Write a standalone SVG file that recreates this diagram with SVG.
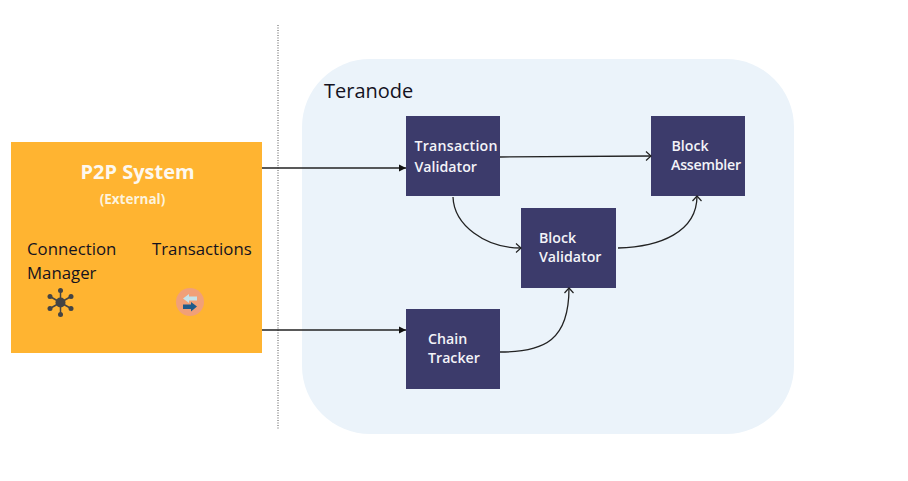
<svg xmlns="http://www.w3.org/2000/svg" width="908" height="481" viewBox="0 0 908 481">
<defs>
<marker id="a" markerWidth="12" markerHeight="12" refX="8" refY="5" orient="auto" markerUnits="userSpaceOnUse"><path d="M3 0.5L8 5L3 9.5" fill="none" stroke="#222" stroke-width="1.2"/></marker>
<marker id="f" markerWidth="12" markerHeight="12" refX="8" refY="4" orient="auto" markerUnits="userSpaceOnUse"><path d="M1 0.5L8 4L1 7.5Z" fill="#111"/></marker>
</defs>
<style>
text{font-family:"Open Sans","Noto Sans",sans-serif}
.box{fill:#3c3b6b}
.w{fill:#f3f3f8;font-size:14.2px;font-weight:600}
.d{fill:#14121f;font-size:16.8px}
.c{fill:none;stroke:#222;stroke-width:1.3}
.hub{stroke:#444;stroke-width:1.5;fill:none}
</style>
<rect width="908" height="481" fill="#fff"/>
<g id="teranode"><rect x="302" y="59" width="492" height="375" rx="68" fill="#ebf3fa"/><text x="324" y="98" font-size="20" fill="#14121f">Teranode</text></g>
<line x1="278" y1="25" x2="278" y2="429" stroke="#555" stroke-width="1" stroke-dasharray="1 1.5"/>
<g id="p2p">
<rect x="11" y="142" width="251" height="211" fill="#ffb431"/>
<text x="137.500" y="179" font-size="20" font-weight="700" fill="#fdf8ef" text-anchor="middle">P2P System</text>
<text x="132.500" y="204" font-size="13.500" font-weight="700" fill="#fdf3dd" text-anchor="middle">(External)</text>
<text class="d" x="27" y="255">Connection</text>
<text class="d" x="27" y="279">Manager</text>
<text class="d" x="152" y="255">Transactions</text>
<g id="hub-icon" class="hub"><path d="M60.500 302.500V291M60.500 302.500V314M60.500 302.500L50 296.500M60.500 302.500L71 296.500M60.500 302.500L50 308.500M60.500 302.500L71 308.500"/><g fill="#444" stroke="none"><circle cx="60.500" cy="302.500" r="5"/><circle cx="60.500" cy="290.500" r="2.500"/><circle cx="60.500" cy="314.500" r="2.500"/><circle cx="50" cy="296.500" r="2.500"/><circle cx="71" cy="296.500" r="2.500"/><circle cx="50" cy="308.500" r="2.500"/><circle cx="71" cy="308.500" r="2.500"/></g></g>
<g id="tx-icon"><circle cx="190" cy="302" r="14" fill="#f1a078"/><path d="M183 298.500L189 294V296.500H197V300.500H189V303Z" fill="#c5e3ea"/><path d="M197 306.500L191 311.500V309H183V304.500H191V302Z" fill="#1f5b8a"/></g>
</g>
<g id="tv"><rect class="box" x="406" y="116" width="94" height="80"/><text class="w" x="414.500" y="151" textLength="83" lengthAdjust="spacing">Transaction</text><text class="w" x="414.500" y="171.500">Validator</text></g>
<g id="ba"><rect class="box" x="651" y="116" width="94" height="80"/><text class="w" x="671.500" y="151">Block</text><text class="w" x="671" y="170" textLength="70" lengthAdjust="spacing">Assembler</text></g>
<g id="bv"><rect class="box" x="521" y="208" width="95" height="80"/><text class="w" x="539" y="243">Block</text><text class="w" x="539" y="262">Validator</text></g>
<g id="ct"><rect class="box" x="406" y="309" width="94" height="80"/><text class="w" x="428" y="344">Chain</text><text class="w" x="428" y="363">Tracker</text></g>
<g id="connectors">
<path class="c" d="M262 168H406" marker-end="url(#f)"/>
<path class="c" d="M262 330H406" marker-end="url(#f)"/>
<path class="c" d="M500 157L651 156" marker-end="url(#a)"/>
<path class="c" d="M453 197C454 225 485 248 521 248" marker-end="url(#a)"/>
<path class="c" d="M618 248C660 247 697 232 697 196" marker-end="url(#a)"/>
<path class="c" d="M500 352C545 352 569 340 569 288" marker-end="url(#a)"/>
</g>
</svg>
